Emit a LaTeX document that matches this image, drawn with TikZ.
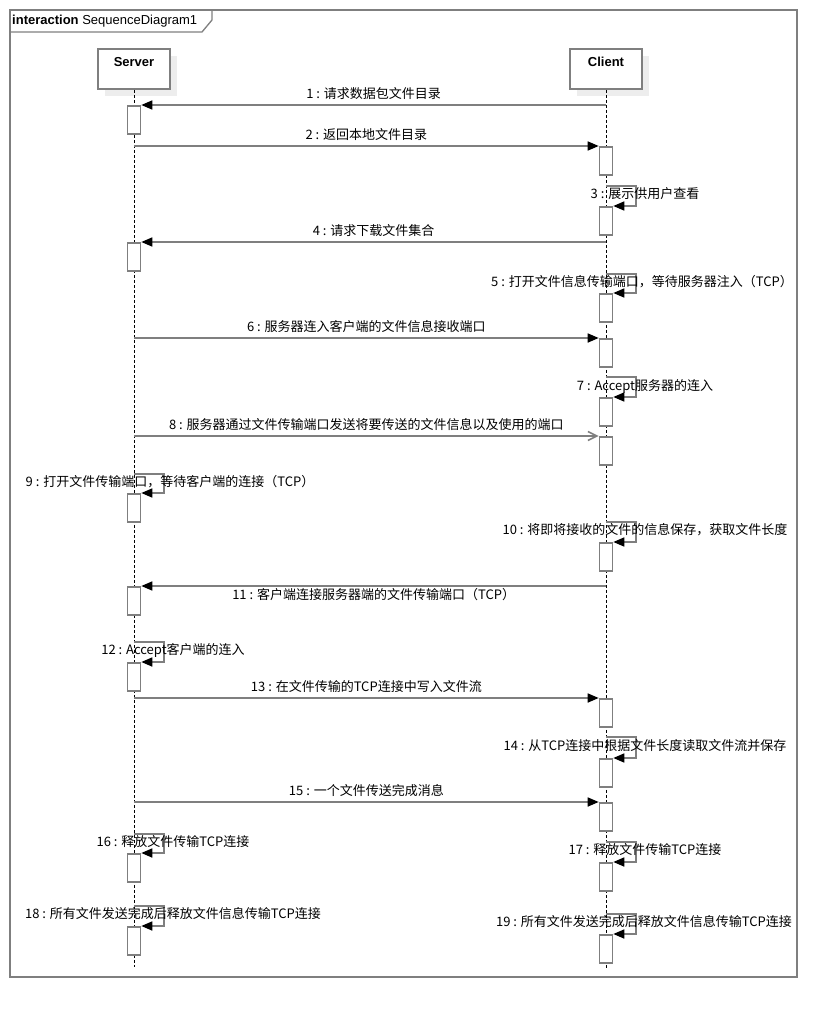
\documentclass[tikz,border=0pt]{standalone}
\usepackage{fontspec}
\newfontfamily\cjkfont{Noto Sans CJK SC}
\newfontfamily\umlfont{Liberation Sans}
\usepackage{tikz}
\usetikzlibrary{arrows.meta, shadows}
\definecolor{umlgray}{HTML}{7F7F7F}
\definecolor{shadowgray}{HTML}{EDEDED}

\begin{document}
\begin{tikzpicture}[x=1pt, y=-1pt, line join=miter,
		msg/.style={draw=umlgray, line width=1.6pt, -{Triangle[length=11pt, width=9pt, color=black]}},
		async/.style={draw=umlgray, line width=1.6pt, -{Straight Barb[length=9pt, width=9pt]}},
		act/.style={draw=umlgray, line width=1.6pt, fill=white, inner sep=0pt, minimum width=13pt, minimum height=28pt, anchor=north},
		head/.style={draw=umlgray, line width=1.6pt, fill=white, minimum width=72pt, minimum height=40pt, inner sep=0pt, text depth=15pt, font=\umlfont\fontsize{13}{15}\selectfont\bfseries, drop shadow={shadow xshift=7pt, shadow yshift=-7pt, fill=shadowgray, opacity=1}},
		life/.style={draw=black, line width=0.9pt, dash pattern=on 3pt off 2pt},
		lbl/.style={font=\cjkfont\fontsize{13}{15}\selectfont, inner sep=2pt}]
		\useasboundingbox (0,0) rectangle (837,1018);
		
		\draw[umlgray, line width=1.3pt] (10,10) rectangle (797,977);
		\draw[umlgray, line width=1.3pt] (10,32) -- (202,32) -- (212,20) -- (212,10);
		\node[anchor=west, inner sep=0pt, font=\umlfont\fontsize{13}{15}\selectfont] (frame) at (12,21) {\textbf{interaction} SequenceDiagram1};
		
		\node[head] (server) at (134,69) {Server};
		\node[head] (client) at (606,69) {Client};
		\coordinate (sEnd) at (134,967);
		\coordinate (cEnd) at (606,968);
		\draw[life] (server.south) -- (sEnd);
		\draw[life] (client.south) -- (cEnd);
		
		\coordinate (m1) at (606,105);
		\node[act] (s1) at (134,105) {};
		\draw[msg] (m1) -- (s1.north east) node[lbl, midway, above=3pt] {1 : 请求数据包文件目录};
		
		\coordinate (m2) at (134,146);
		\node[act] (c2) at (606,146) {};
		\draw[msg] (m2) -- (c2.north west) node[lbl, midway, above=3pt] {2 : 返回本地文件目录};
		
		\coordinate (m3) at (606,186);
		\node[act] (c3) at (606,206) {};
		\draw[msg] (m3) -- ++(30,0) |- (c3.north east);
		\node[lbl] (t3) at (645,194) {3 : 展示供用户查看};
		
		\coordinate (m4) at (606,242);
		\node[act] (s4) at (134,242) {};
		\draw[msg] (m4) -- (s4.north east) node[lbl, midway, above=3pt] {4 : 请求下载文件集合};
		
		\coordinate (m5) at (606,274);
		\node[act] (c5) at (606,293) {};
		\draw[msg] (m5) -- ++(30,0) |- (c5.north east);
		\node[lbl] (t5) at (642,282) {5 : 打开文件信息传输端口，等待服务器注入（TCP）};
		
		\coordinate (m6) at (134,338);
		\node[act] (c6) at (606,338) {};
		\draw[msg] (m6) -- (c6.north west) node[lbl, midway, above=3pt] {6 : 服务器连入客户端的文件信息接收端口};
		
		\coordinate (m7) at (606,377);
		\node[act] (c7) at (606,397) {};
		\draw[msg] (m7) -- ++(30,0) |- (c7.north east);
		\node[lbl] (t7) at (645,386) {7 : Accept服务器的连入};
		
		\coordinate (m8) at (134,436);
		\node[act] (c8) at (606,436) {};
		\draw[async] (m8) -- (c8.north west) node[lbl, midway, above=3pt] {8 : 服务器通过文件传输端口发送将要传送的文件信息以及使用的端口};
		
		\coordinate (m9) at (134,474);
		\node[act] (s9) at (134,493) {};
		\draw[msg] (m9) -- ++(30,0) |- (s9.north east);
		\node[lbl] (t9) at (170,482) {9 : 打开文件传输端口，等待客户端的连接（TCP）};
		
		\coordinate (m10) at (606,522);
		\node[act] (c10) at (606,542) {};
		\draw[msg] (m10) -- ++(30,0) |- (c10.north east);
		\node[lbl] (t10) at (645,530) {10 : 将即将接收的文件的信息保存，获取文件长度};
		
		\coordinate (m11) at (606,586);
		\node[act] (s11) at (134,586) {};
		\draw[msg] (m11) -- (s11.north east) node[lbl, midway, below] {11 : 客户端连接服务器端的文件传输端口（TCP）};
		
		\coordinate (m12) at (134,642);
		\node[act] (s12) at (134,662) {};
		\draw[msg] (m12) -- ++(30,0) |- (s12.north east);
		\node[lbl] (t12) at (173,650) {12 : Accept客户端的连入};
		
		\coordinate (m13) at (134,698);
		\node[act] (c13) at (606,698) {};
		\draw[msg] (m13) -- (c13.north west) node[lbl, midway, above=3pt] {13 : 在文件传输的TCP连接中写入文件流};
		
		\coordinate (m14) at (606,737);
		\node[act] (c14) at (606,758) {};
		\draw[msg] (m14) -- ++(30,0) |- (c14.north east);
		\node[lbl] (t14) at (645,746) {14 : 从TCP连接中根据文件长度读取文件流并保存};
		
		\coordinate (m15) at (134,802);
		\node[act] (c15) at (606,802) {};
		\draw[msg] (m15) -- (c15.north west) node[lbl, midway, above=3pt] {15 : 一个文件传送完成消息};
		
		\coordinate (m16) at (134,834);
		\node[act] (s16) at (134,853) {};
		\draw[msg] (m16) -- ++(30,0) |- (s16.north east);
		\node[lbl] (t16) at (173,842) {16 : 释放文件传输TCP连接};
		
		\coordinate (m17) at (606,842);
		\node[act] (c17) at (606,862) {};
		\draw[msg] (m17) -- ++(30,0) |- (c17.north east);
		\node[lbl] (t17) at (645,850) {17 : 释放文件传输TCP连接};
		
		\coordinate (m18) at (134,906);
		\node[act] (s18) at (134,926) {};
		\draw[msg] (m18) -- ++(30,0) |- (s18.north east);
		\node[lbl] (t18) at (173,914) {18 : 所有文件发送完成后释放文件信息传输TCP连接};
		
		\coordinate (m19) at (606,914);
		\node[act] (c19) at (606,934) {};
		\draw[msg] (m19) -- ++(30,0) |- (c19.north east);
		\node[lbl] (t19) at (644,922) {19 : 所有文件发送完成后释放文件信息传输TCP连接};
		
	\end{tikzpicture}
\end{document}
